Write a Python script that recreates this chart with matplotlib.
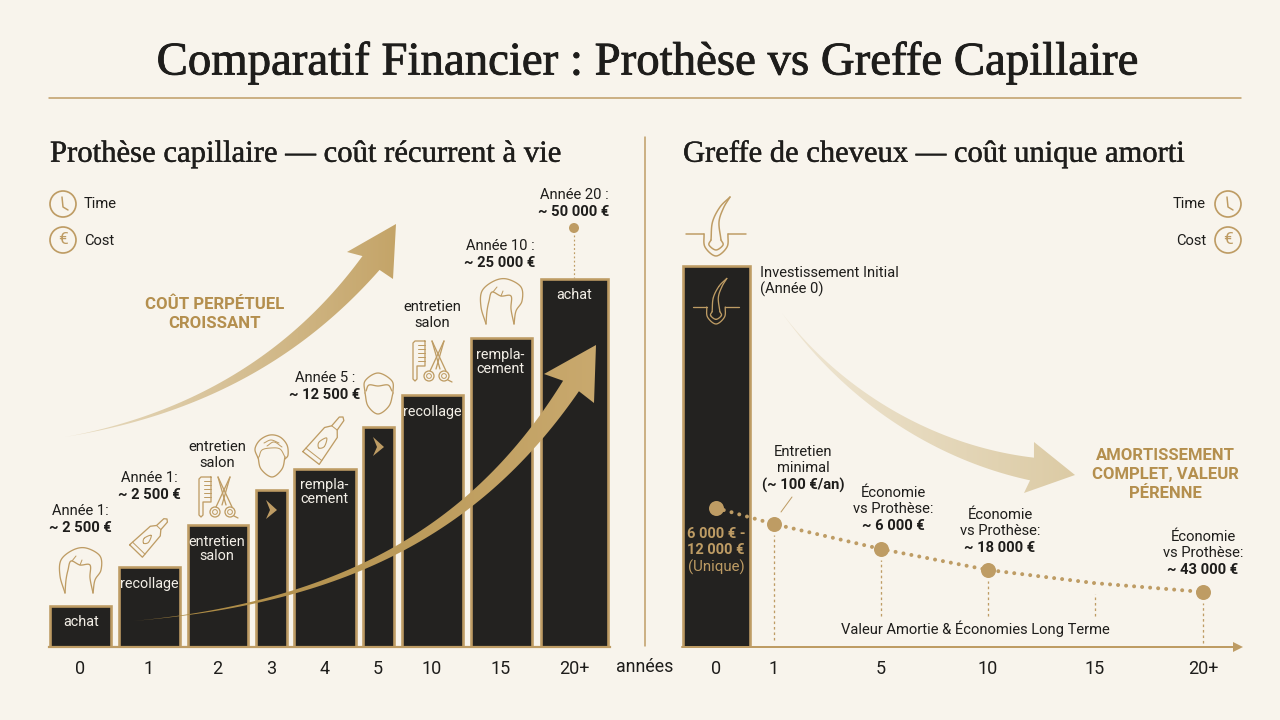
import numpy as np
import matplotlib
matplotlib.use("Agg")
import matplotlib.pyplot as plt
from matplotlib.path import Path
from matplotlib.patches import PathPatch, Circle, Polygon
from matplotlib.colors import LinearSegmentedColormap
import matplotlib.patheffects as pe

# ---------- data ----------
prothese_years = ['0', '1', '2', '3', '4', '5', '10', '15', '20+']
prothese_heights = [11.2, 21.8, 33.2, 42.8, 48.5, 59.9, 68.7, 84.2, 100.3]
prothese_bar_labels = ['achat', 'recollage', 'entretien\nsalon', '', 'rempla-\ncement',
                       '', 'recollage', 'rempla-\ncement', 'achat']
greffe_years = ['0', '1', '5', '10', '15', '20+']
greffe_curve = [37.9, 33.5, 26.7, 21.0, 17.4, 15.0]
greffe_bar_height = 103.8

# ---------- layout ----------
BG = '#F8F4EC'
GOLD = '#BE9C64'
GOLD_TXT = '#B48F4E'
INK = '#1E1D1B'
BAR = '#232220'
FONT = 'Roboto'
SERIF = 'Liberation Serif'
W, H = 1280, 720
BASE_Y = 647
PX_PER_UNIT = 3.67
YMAX = 130
bar_left = [49, 118, 187, 255, 293, 362, 401, 470, 540]
bar_right = [112, 181, 249, 288, 357, 395, 464, 533, 609]
greffe_x = [716, 774, 881, 988, 1095, 1203]
px = 1 / 100 * 72  # one pixel in points

plt.rcParams['font.family'] = [FONT, 'DejaVu Sans']
fig = plt.figure(figsize=(12.8, 7.2), dpi=100, facecolor=BG)


def data_axes(x0, x1):
    top = BASE_Y - YMAX * PX_PER_UNIT
    a = fig.add_axes([x0 / W, (H - BASE_Y) / H, (x1 - x0) / W, (BASE_Y - top) / H])
    a.set_xlim(x0, x1)
    a.set_ylim(0, YMAX)
    a.patch.set_visible(False)
    for s in a.spines.values():
        s.set_visible(False)
    a.set_yticks([])
    a.tick_params(axis='x', length=0, pad=9, labelsize=13, labelcolor=INK)
    return a


# ---------- bars, left ----------
axL = data_axes(40, 640)
centers = [(a + b) / 2 for a, b in zip(bar_left, bar_right)]
widths = [b - a - 2 for a, b in zip(bar_left, bar_right)]
axL.bar(centers, prothese_heights, width=widths, color=BAR, edgecolor=GOLD, linewidth=2.6 * px, zorder=2)
axL.plot([49, 610], [0, 0], color=GOLD, lw=2.2 * px, clip_on=False, zorder=3)
axL.set_xticks([80, 149, 217, 271, 325, 378, 432, 501, 574])
axL.set_xticklabels(prothese_years)

# ---------- bar and curve, right ----------
axR = data_axes(660, 1250)
axR.bar([716.5], [greffe_bar_height], width=67, color=BAR, edgecolor=GOLD, linewidth=2.6 * px, zorder=2)
axR.set_xticks(greffe_x)
axR.set_xticklabels(greffe_years)

deco = fig.add_axes([0, 0, 1, 1], zorder=5)
deco.patch.set_visible(False)
deco.axis('off')


def text(x, y, s, size=10.6, weight='normal', color=INK, ha='center', **k):
    deco.text(x, y + 1, s, fontsize=size, fontweight=weight, color=color, ha=ha, va='center', **k)


def curve(pts, ox=0, oy=0, lw=1.3, color=GOLD, closed=False, z=6):
    p = np.array(pts, float) + [ox, oy]
    if closed:
        p = np.vstack([p[-1], p, p[0], p[1]])
    else:
        p = np.vstack([2 * p[0] - p[1], p, 2 * p[-1] - p[-2]])
    out = []
    for i in range(1, len(p) - 2):
        for t in np.linspace(0, 1, 10):
            a, b, c, d = p[i - 1], p[i], p[i + 1], p[i + 2]
            out.append(0.5 * (2 * b + (c - a) * t + (2 * a - 5 * b + 4 * c - d) * t ** 2 + (3 * b - a - 3 * c + d) * t ** 3))
    out = np.array(out)
    deco.plot(out[:, 0], out[:, 1], color=color, lw=lw * px, solid_capstyle='round', zorder=z)


def line(pts, ox=0, oy=0, lw=1.3, color=GOLD, z=6, **k):
    p = np.array(pts, float) + [ox, oy]
    deco.plot(p[:, 0], p[:, 1], color=color, lw=lw * px, solid_capstyle='round', zorder=z, **k)


def grad_arrow(P, w, barb1, tip, barb2, c0, c1, x_range, z=4):
    P = np.array(P, float)
    t = np.linspace(0, 1, 80)[:, None]
    C = (1 - t) ** 3 * P[0] + 3 * (1 - t) ** 2 * t * P[1] + 3 * (1 - t) * t ** 2 * P[2] + t ** 3 * P[3]
    d = np.gradient(C, axis=0)
    n = np.c_[-d[:, 1], d[:, 0]] / np.linalg.norm(d, axis=1, keepdims=True)
    hw = (w / 2 * t ** 1.3)
    a, b = C + n * hw, C - n * hw
    poly = np.vstack([a, [barb2], [tip], [barb1], b[::-1]])
    patch = PathPatch(Path(np.vstack([poly, poly[0]]), closed=True), fc='none', ec='none', transform=deco.transData)
    deco.add_patch(patch)
    cm = LinearSegmentedColormap.from_list('g', [c0, c1])
    im = deco.imshow(np.linspace(0, 1, 256)[None, :], cmap=cm, aspect='auto', zorder=z,
                     extent=(x_range[0], x_range[1], 720, 0), interpolation='bilinear')
    im.set_clip_path(patch)


grad_arrow([(65, 437), (210, 412), (305, 345), (371, 263)], 22, (347, 252), (396, 224), (393, 279),
           '#E9DDC3', '#C4A468', (65, 397))
grad_arrow([(133, 621), (350, 602), (480, 525), (571, 386)], 19, (544, 374), (596, 345), (594, 403),
           '#A9873F', '#C9A96E', (133, 597))
grad_arrow([(782, 313), (840, 392), (930, 452), (1032, 469)], 23, (1034, 442), (1075, 475), (1024, 493),
           '#EFE6D3', '#DCCBA5', (782, 1075))
deco.set_xlim(0, W)
deco.set_ylim(H, 0)

# ---------- rules ----------
line([(49, 98), (1241, 98)], lw=1.5)
line([(645, 137), (645, 646)], lw=1.5)
line([(682, 647), (1234, 647)], lw=2.0)
deco.add_patch(Polygon([(1233, 642), (1243, 647), (1233, 652)], fc=GOLD, ec='none', zorder=6))

# ---------- titles ----------
deco.text(647, 63, 'Comparatif Financier : Prothèse vs Greffe Capillaire', fontsize=33.7, family=SERIF,
          color=INK, ha='center', va='center', path_effects=[pe.withStroke(linewidth=0.6, foreground=INK)])
deco.text(50, 154, 'Prothèse capillaire — coût récurrent à vie', fontsize=22.1, family=SERIF, color=INK,
          ha='left', va='center', path_effects=[pe.withStroke(linewidth=0.3, foreground=INK)])
deco.text(683, 154, 'Greffe de cheveux — coût unique amorti', fontsize=22, family=SERIF, color=INK,
          ha='left', va='center', path_effects=[pe.withStroke(linewidth=0.3, foreground=INK)])
text(645, 666, 'années', size=12.8)

# ---------- legends ----------
for cx, side in ((63, 1), (1228, -1)):
    deco.add_patch(Circle((cx, 204), 13, fc='none', ec=GOLD, lw=1.7 * px, zorder=6))
    deco.add_patch(Circle((cx, 240), 13, fc='none', ec=GOLD, lw=1.7 * px, zorder=6))
    line([(cx - 1, 197), (cx, 207), (cx + 5, 210)], lw=1.5)
    text(cx, 239, '€', size=12.5, color=GOLD)
text(84, 203, 'Time', ha='left')
text(84, 240, 'Cost', ha='left')
text(1206, 203, 'Time', ha='right')
text(1206, 240, 'Cost', ha='right')

# ---------- left annotations ----------
for x, y, a, b in [(80, 510, 'Année 1:', '~ 2 500 €'), (149, 477, 'Année 1:', '~ 2 500 €'),
                   (325, 377, 'Année 5 :', '~ 12 500 €'), (500, 245, 'Année 10 :', '~ 25 000 €'),
                   (574, 194, 'Année 20 :', '~ 50 000 €')]:
    text(x, y, a)
    text(x, y + 17, b, weight='bold')
for x, y in [(217, 446), (432, 306)]:
    text(x, y, 'entretien')
    text(x, y + 16, 'salon')
text(215, 303, 'COÛT PERPÉTUEL', size=12.1, weight='bold', color=GOLD_TXT)
text(215, 322, 'CROISSANT', size=12.1, weight='bold', color=GOLD_TXT)

# in-bar labels
label_y = [622, 584, 549, 0, 492, 0, 412, 362, 295]
for c, lab, y in zip([81, 149, 217, 271, 324, 378, 432, 500, 574], prothese_bar_labels, label_y):
    if lab:
        deco.text(c, y, lab, fontsize=10.4, color='#F3EFE7', ha='center', va='center', linespacing=1.05, zorder=8)

# chevrons
for ox, oy in [(266, 500), (373, 437)]:
    deco.add_patch(Polygon([(ox, oy), (ox + 11, oy + 10), (ox, oy + 19), (ox + 4, oy + 10)], fc=GOLD, ec='none', zorder=6))

# top dot of last bar
deco.add_patch(Circle((574, 228), 5, fc=GOLD, ec='none', zorder=6))
line([(574, 235), (574, 278)], lw=1.2, linestyle=(0, (1.5, 2)))


# wig
def wig(ox, oy):
    curve([(7, 45), (2, 28), (3, 12), (15, 2), (28, 0), (42, 8), (43, 22), (37, 32), (35, 45)], ox, oy)
    curve([(35, 45), (32, 30), (32, 17), (22, 17), (13, 13), (10, 22), (8, 32), (7, 45)], ox, oy)
    line([(14, 13), (18, 8)], ox, oy, lw=1)
    line([(22, 17), (24, 12)], ox, oy, lw=1)


wig(58, 548)
wig(479, 279)


# tube
def tube(x0, y0, x1, y1):
    a = np.array([x0, y0], float)
    u = np.array([x1 - x0, y1 - y0], float)
    L = np.linalg.norm(u)
    u /= L
    v = np.array([-u[1], u[0]])
    s = L / 45
    pt = lambda p, q: a + u * p * s + v * q * s
    body = [(0, -9), (0, 9), (28, 7), (33, 3), (43, 2.5), (45, 0), (43, -2.5), (33, -3), (28, -7), (0, -9)]
    line([pt(*b) for b in body])
    line([pt(4, -8.8), pt(4, 8.8)], lw=1)
    line([pt(33, -3), pt(33, 3)], lw=1)
    curve([pt(11, 0), pt(15, -3), pt(22, 0), pt(15, 3)], closed=True, lw=1.1)


tube(136, 551, 167, 519)
tube(311, 458, 343, 417)


# comb and scissors
def comb(ox, oy):
    line([(12, 0), (2, 0), (0, 2), (0, 38), (2, 40), (4, 38), (4, 25), (12, 25), (12, 0)], ox, oy)
    for yy in (4, 8, 12, 16, 20):
        line([(5, yy), (12, yy)], ox, oy, lw=1)
    line([(19, 0), (33, 30)], ox, oy)
    line([(19, 0), (27, 28)], ox, oy)
    line([(31, 0), (17, 30)], ox, oy)
    line([(31, 0), (23, 28)], ox, oy)
    for cx in (16, 31):
        deco.add_patch(Circle((ox + cx, oy + 35), 5, fc='none', ec=GOLD, lw=1.3 * px, zorder=6))
        deco.add_patch(Circle((ox + cx, oy + 35), 2.4, fc='none', ec=GOLD, lw=1 * px, zorder=6))
    line([(35, 39), (39, 41)], ox, oy)


comb(199, 477)
comb(413, 341)

# head with hair
curve([(3, 22), (6, 34), (17, 42), (27, 34), (30, 22)], 255, 435)
curve([(3, 23), (0, 14), (5, 5), (15, 0), (25, 2), (32, 10), (33, 20), (30, 24)], 255, 435)
curve([(4, 22), (7, 15), (16, 13), (25, 14), (30, 22)], 255, 435, lw=1)
curve([(9, 8), (16, 5), (24, 8)], 255, 435, lw=1)
curve([(12, 11), (19, 7), (27, 12)], 255, 435, lw=1)
# head, short
curve([(2, 20), (2, 8), (15, 0), (29, 8), (30, 20)], 363, 373)
curve([(2, 20), (5, 33), (15, 41), (26, 33), (30, 20)], 363, 373)
curve([(3, 18), (6, 12), (15, 13), (25, 12), (29, 18)], 363, 373)


# follicle
def follicle(cx, base, half, bottom, lw):
    k = (bottom - base) / 22
    line([(cx - half, base), (cx - 12 * k, base)], lw=lw)
    line([(cx + 12 * k, base), (cx + half, base)], lw=lw)
    curve([(cx - 12 * k, base), (cx - 11 * k, base + 13 * k), (cx, bottom), (cx + 11 * k, base + 13 * k), (cx + 12 * k, base)], lw=lw)
    curve([(cx - 5 * k, base + 6 * k), (cx - 7 * k, base + 11 * k), (cx, base + 16 * k), (cx + 7 * k, base + 11 * k), (cx + 5 * k, base + 6 * k)], lw=lw)
    curve([(cx - 5 * k, base + 6 * k), (cx - 3.5 * k, base - 12 * k), (cx + 4 * k, base - 27 * k), (cx + 14 * k, base - 37 * k)], lw=lw)
    curve([(cx + 5 * k, base + 6 * k), (cx + 3 * k, base - 12 * k), (cx + 7.5 * k, base - 26 * k), (cx + 14 * k, base - 37 * k)], lw=lw)


follicle(716, 234, 30, 256, 1.5)
follicle(716, 307, 23, 324, 1.3)

# ---------- right annotations ----------
text(760, 272, 'Investissement Initial', ha='left')
text(760, 288, '(Année 0)', ha='left')
text(803, 451, 'Entretien')
text(803, 467, 'minimal')
text(803, 484, '(~ 100 €/an)', weight='bold')
line([(781, 512), (792, 497)], lw=1)
for x, y, v in [(893, 492, '~ 6 000 €'), (1000, 514, '~ 18 000 €'), (1203, 536, '~ 43 000 €')]:
    text(x, y, 'Économie')
    text(x, y + 16, 'vs Prothèse:')
    text(x, y + 33, v, weight='bold')
text(975, 628, 'Valeur Amortie & Économies Long Terme')
text(716, 533, '6 000 € -', weight='bold', color=GOLD, size=10.5)
text(716, 549, '12 000 €', weight='bold', color=GOLD, size=10.5)
text(716, 566, '(Unique)', color=GOLD, size=10.8)
text(1165, 455, 'AMORTISSEMENT', size=12, weight='bold', color=GOLD_TXT)
text(1165, 474, 'COMPLET, VALEUR', size=12, weight='bold', color=GOLD_TXT)
text(1165, 493, 'PÉRENNE', size=12, weight='bold', color=GOLD_TXT)

# curve (on the data axes, above the dark bar)
axC = data_axes(660, 1250)
axC.set_zorder(6)
axC.set_xticks([])
axC.plot(greffe_x, greffe_curve, color=GOLD, lw=4 * px, linestyle=(0, (0.01, 2.0)),
         dash_capstyle='round', zorder=3)
mk_x = [x for i, x in enumerate(greffe_x) if i != 4]
mk_y = [v for i, v in enumerate(greffe_curve) if i != 4]
axC.plot(mk_x, mk_y, 'o', color=GOLD, ms=15 * px, mew=0, zorder=4)
for x, v, lo in zip(greffe_x[1:], greffe_curve[1:], [2, 8.5, 8.5, 8.5, 1]):
    axC.plot([x, x], [lo, v - 3], color=GOLD, lw=1.3 * px, linestyle=(0, (2, 2.2)), zorder=2)

fig.savefig('out.png', dpi=100, facecolor=BG)
